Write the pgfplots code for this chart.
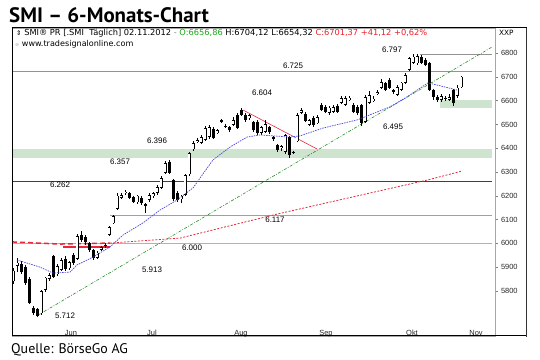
\documentclass[border=0pt]{standalone}
\usepackage{fontspec}
\setmainfont{Liberation Sans}
\newfontfamily\titlefont{PT Sans}
\newfontfamily\symfont{DejaVu Sans}
\usepackage{pgfplots}
\pgfplotsset{compat=1.18}
\usepackage{pgfplotstable}
\definecolor{band}{RGB}{207,228,207}
\definecolor{trendgreen}{RGB}{40,140,40}
\definecolor{mablue}{RGB}{70,70,220}
\definecolor{mared}{RGB}{230,40,60}
\definecolor{hdrgreen}{RGB}{20,170,20}
\definecolor{hdrred}{RGB}{235,30,40}

\pgfplotstableread{
x o h l c
0 5840 5895 5830 5885
1 5905 5938 5880 5918
2 5915 5925 5870 5880
3 5900 5910 5825 5833
4 5850 5860 5745 5750
5 5730 5735 5700 5705
6 5725 5730 5690 5695
7 5705 5805 5700 5800
8 5805 5860 5795 5855
9 5850 5875 5840 5865
10 5945 5950 5855 5860
11 5870 5915 5862 5905
12 5890 5940 5885 5930
13 5935 5945 5885 5890
14 5895 5925 5890 5920
15 5950 5958 5910 5918
16 5935 6040 5930 6030
17 6035 6050 6005 6015
18 6025 6035 5995 6005
19 6000 6005 5965 5972
20 5972 5978 5930 5940
21 5940 5968 5935 5960
22 5972 5990 5968 5985
23 5995 6003 5982 5988
24 6035 6075 6030 6068
25 6085 6120 6080 6115
26 6145 6210 6140 6200
27 6192 6212 6185 6203
28 6212 6225 6205 6218
29 6212 6218 6185 6191
30 6195 6200 6168 6175
31 6172 6205 6165 6200
32 6192 6198 6160 6170
33 6165 6170 6128 6160
34 6182 6210 6175 6203
35 6198 6218 6192 6212
36 6212 6245 6205 6237
37 6233 6282 6228 6275
38 6296 6345 6290 6338
39 6342 6350 6290 6296
40 6266 6270 6180 6187
41 6212 6220 6175 6182
42 6185 6205 6170 6200
43 6203 6292 6198 6287
44 6290 6385 6285 6380
45 6395 6430 6390 6420
46 6425 6445 6420 6435
47 6422 6455 6418 6447
48 6435 6495 6430 6485
49 6447 6500 6440 6489
50 6480 6490 6438 6443
51 6464 6480 6458 6475
52 6519 6525 6505 6510
53 6490 6500 6485 6495
54 6489 6495 6470 6477
55 6498 6530 6492 6519
56 6540 6548 6480 6485
57 6560 6570 6535 6540
58 6540 6550 6510 6519
59 6527 6545 6520 6538
60 6510 6515 6470 6477
61 6510 6520 6455 6464
62 6464 6495 6455 6489
63 6470 6520 6465 6502
64 6489 6495 6460 6468
65 6447 6452 6430 6437
66 6414 6420 6385 6393
67 6400 6415 6390 6410
68 6384 6462 6375 6456
69 6447 6452 6360 6372
70 6385 6390 6375 6380
71 6430 6550 6425 6540
72 6550 6570 6545 6560
73 6545 6553 6510 6515
74 6500 6525 6495 6519
75 6527 6535 6490 6498
76 6505 6540 6500 6530
77 6582 6590 6555 6561
78 6574 6580 6548 6553
79 6548 6578 6540 6570
80 6553 6582 6548 6574
81 6578 6585 6548 6553
82 6590 6618 6585 6610
83 6582 6620 6578 6610
84 6605 6620 6600 6612
85 6582 6590 6548 6553
86 6574 6580 6540 6548
87 6582 6588 6495 6507
88 6510 6625 6505 6616
89 6590 6640 6585 6624
90 6600 6620 6595 6608
91 6630 6645 6625 6637
92 6653 6690 6648 6679
93 6675 6680 6640 6645
94 6687 6695 6648 6653
95 6645 6650 6630 6635
96 6624 6665 6618 6658
97 6645 6680 6640 6675
98 6675 6715 6670 6708
99 6729 6785 6725 6780
100 6760 6797 6755 6785
101 6757 6795 6750 6787
102 6785 6792 6755 6760
103 6772 6780 6745 6750
104 6759 6765 6640 6645
105 6645 6650 6605 6616
106 6614 6625 6595 6603
107 6603 6628 6595 6618
108 6608 6620 6600 6612
109 6603 6630 6598 6616
110 6645 6650 6578 6590
111 6620 6665 6610 6655
112 6657 6704 6654 6701
}\candles

\newcommand{\lbl}{\fontsize{8}{9}\selectfont}

\begin{document}
\begin{tikzpicture}
\useasboundingbox (0,0) rectangle (540bp,360bp);
\begin{axis}[
  at={(12bp,24bp)}, anchor=south west,
  scale only axis, width=483bp, height=308bp,
  xmin=-0.25, xmax=120.5, ymin=5610.2, ymax=6905.9,
  axis line style={draw=gray!70, line width=0.6bp},
  /pgf/number format/assume math mode=true,
  ytick={5800,5900,...,6800},
  yticklabel pos=right, ytick pos=right,
  y tick label style={font=\fontsize{7.5}{8}\selectfont, text=black!85, /pgf/number format/1000 sep={}},
  ytick style={draw=gray, line width=0.5bp},
  tick align=outside, major tick length=2.5bp,
  xtick={14.5,34.75,57,78.25,99.75,115.75},
  xticklabels={Jun,Jul,Aug,Sep,Okt,Nov},
  xtick pos=bottom,
  xtick style={draw=none},
  x tick label style={anchor=base, yshift=2.5bp, font=\fontsize{7.5}{8}\selectfont, text=black!85},
  extra x ticks={4,25.25,46.5,68.75,90.25,111.5},
  extra x tick labels={},
  extra x tick style={tick style={draw=gray!50, line width=0.6bp, yshift=9bp}, tick align=inside, major tick length=3bp},
]
% green zones
\addplot[draw=none, fill=band, forget plot] coordinates {(-0.25,6357) (119.75,6357) (119.75,6396) (-0.25,6396)} -- cycle;
\addplot[draw=none, fill=band, forget plot] coordinates {(106.75,6570) (119.75,6570) (119.75,6605) (106.75,6605)} -- cycle;
% horizontal levels
\addplot[gray!85, line width=0.7bp, forget plot] coordinates {(-0.25,6725) (119.75,6725)};
\addplot[gray!85, line width=0.7bp, forget plot] coordinates {(101.75,6797) (119.75,6797)};
\addplot[black!75, line width=0.7bp, forget plot] coordinates {(-0.25,6262) (119.75,6262)};
\addplot[gray!75, line width=0.7bp, forget plot] coordinates {(24.25,6117) (119.75,6117)};
\addplot[gray!60, line width=1.6bp, forget plot] coordinates {(-0.25,6000) (119.75,6000)};
% long green uptrend
\addplot[trendgreen, line width=0.6bp, dash pattern=on 3bp off 1.5bp on 0.8bp off 1.5bp, forget plot] coordinates {(6.25,5698) (119.75,6826)};
% red downtrend
\addplot[mared, line width=0.6bp, forget plot] coordinates {(57.5,6561) (76,6397)};
% red moving average (200 days)
\addplot[mared, line width=1.5bp, dash pattern=on 5bp off 3bp, forget plot] coordinates {(-0.25,6006) (11.75,5997) (24.25,6001)};
\addplot[mared, line width=0.8bp, dash pattern=on 2bp off 1.5bp, forget plot] coordinates {(24.25,6001) (41.75,6022) (66,6123) (103.5,6266) (112.25,6304)};
\addplot[mared, line width=2bp, forget plot] coordinates {(12.5,5986) (24.25,5986)};
% candles: wicks
\addplot[draw=none, mark=none, forget plot, error bars/.cd, y dir=both, y explicit, error mark=none,
  error bar style={draw=black, line width=0.6bp, line cap=butt}]
  table[x=x, y expr=(\thisrow{h}+\thisrow{l})/2, y error expr=(\thisrow{h}-\thisrow{l})/2] {\candles};
% candles: bodies (outline / filled)
\addplot[draw=none, mark=none, forget plot, error bars/.cd, y dir=both, y explicit, error mark=none,
  error bar style={draw=black, line width=3bp, line cap=butt}]
  table[x=x, y expr=(\thisrow{o}+\thisrow{c})/2, y error expr={max(abs(\thisrow{c}-\thisrow{o})/2,1.5)}] {\candles};
% candles: hollow interior of rising days
\addplot[draw=none, mark=none, forget plot, error bars/.cd, y dir=both, y explicit, error mark=none,
  error bar style={draw=white, line width=1.8bp, line cap=butt}]
  table[x=x, y expr=(\thisrow{o}+\thisrow{c})/2, y error expr={ifthenelse(\thisrow{c}>\thisrow{o}, max((\thisrow{c}-\thisrow{o})/2-2.6,0), 0)}] {\candles};
% blue moving average
\addplot[mablue, line width=0.7bp, dash pattern=on 1.5bp off 1bp, forget plot] coordinates {
(1,5930) (6.75,5900) (10,5875) (14.25,5879) (16,5909) (20,5942) (24.25,5985) (27.5,6035)
(32.5,6086) (36.75,6140) (41,6182) (45,6233) (50,6351) (54.25,6405) (58.5,6447) (61.75,6456)
(69.25,6447) (71.75,6452) (77.5,6485) (86,6519) (94.25,6574) (98.5,6616) (103.75,6675)
(106,6666) (111,6645)};
\end{axis}
% outer frame
\draw[black, line width=1bp] (12bp,24bp) rectangle (526bp,332bp);
\draw[black!80, line width=1.2bp] (526.6bp,23.4bp) -- (526.6bp,332bp);
% title and source
\node[anchor=base west, inner sep=0pt, font=\titlefont\bfseries\fontsize{21}{24}\selectfont] at (9bp,337.5bp) {SMI – 6-Monats-Chart};
\node[anchor=base west, inner sep=0pt, font=\titlefont\fontsize{14}{16}\selectfont] at (11bp,7bp) {Quelle: BörseGo AG};
% header
\node[anchor=base west, inner sep=0pt, font=\symfont\fontsize{8.3}{9}\selectfont] at (16bp,324.5bp)
  {{\fontsize{6.5}{8}\selectfont ⇕}\ SMI® PR [.SMI\ \ Täglich] 02.11.2012 {\color{gray}-} \textcolor{hdrgreen}{O:6656,86} H:6704,12 L:6654,32 \textcolor{hdrred}{C:6701,37 +41,12 +0,62\%}};
\node[anchor=base west, inner sep=0pt, font=\symfont\fontsize{8.1}{9}\selectfont] at (15bp,313.5bp)
  {{\fontsize{5}{6}\selectfont\color{gray}∞}\ www.tradesignalonline.com};
\node[anchor=base west, inner sep=0pt, font=\symfont\fontsize{7.3}{9}\selectfont] at (499bp,324.5bp) {XXP};
% level annotations
\node[font=\lbl] at (392bp,310bp) {6.797};
\node[font=\lbl] at (293bp,294bp) {6.725};
\node[font=\lbl] at (262bp,267bp) {6.604};
\node[font=\lbl] at (393bp,233bp) {6.495};
\node[font=\lbl] at (157bp,219bp) {6.396};
\node[font=\lbl] at (120bp,198bp) {6.357};
\node[font=\lbl] at (60bp,175bp) {6.262};
\node[font=\lbl] at (275bp,140bp) {6.117};
\node[font=\lbl] at (192bp,112bp) {6.000};
\node[font=\lbl] at (152bp,90bp) {5.913};
\node[font=\lbl] at (65bp,44bp) {5.712};
\end{tikzpicture}
\end{document}
